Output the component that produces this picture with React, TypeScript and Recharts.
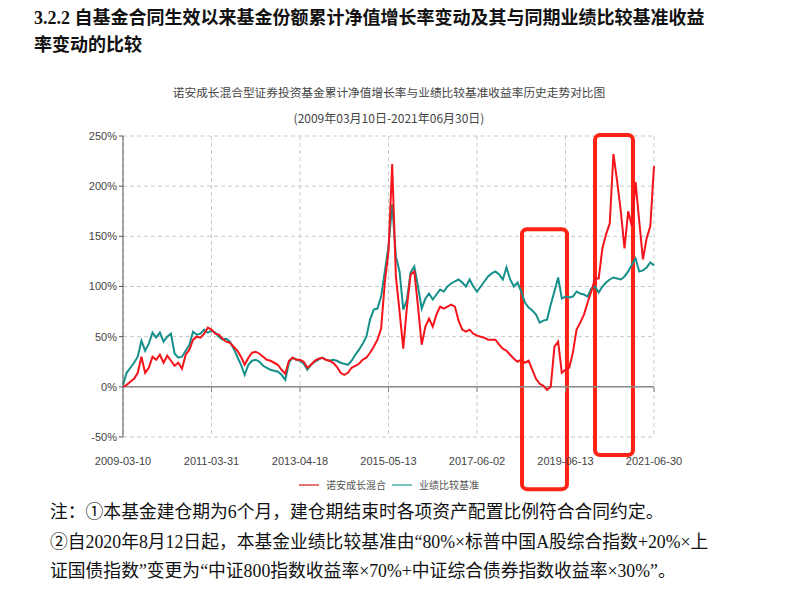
import React from 'react';
import {
  LineChart,
  Line,
  XAxis,
  YAxis,
  CartesianGrid,
  ReferenceLine,
  ReferenceArea,
} from 'recharts';

// ---- data ----
const tickLabels = ['2009-03-10', '2011-03-31', '2013-04-18', '2015-05-13', '2017-06-02', '2019-06-13', '2021-06-30'];
const tickIdx = [0, 24, 48, 72, 96, 120, 144];
const yTicks = [-50, 0, 50, 100, 150, 200, 250];

const seriesNames = ['诺安成长混合', '业绩比较基准'];

// 诺安成长混合 累计净值增长率 (%)
const fund = [
  0, 2, 5, 8, 14, 30, 14, 19, 30, 27,
  32, 24, 31, 26, 21, 24, 18, 32, 37, 47,
  50, 49, 53, 59, 57, 53, 52, 48, 45, 44,
  40, 36, 30, 22, 29, 34, 35, 33, 30, 27,
  26, 24, 22, 17, 13, 26, 29, 27, 27, 25,
  19, 22, 26, 28, 29, 27, 26, 24, 20, 14,
  12, 14, 19, 21, 23, 27, 29, 34, 40, 47,
  58, 104, 135, 222, 110, 75, 38, 80, 112, 115,
  80, 42, 60, 68, 60, 72, 80, 78, 80, 82,
  80, 66, 57, 55, 57, 53, 51, 50, 49, 47,
  47, 47, 42, 38, 36, 32, 28, 25, 27, 24,
  26, 17, 8, 3, 1, -3, 0, 40, 45, 14,
  17, 19, 34, 57, 64, 72, 84, 95, 108, 108,
  138, 152, 163, 232, 205, 175, 138, 175, 160, 204,
  165, 127, 148, 160, 220,
];

// 业绩比较基准收益率 (%)
const bench = [
  2, 14, 19, 24, 30, 46, 36, 43, 54, 49,
  54, 45, 50, 53, 33, 29, 30, 36, 42, 55,
  52, 53, 57, 54, 56, 54, 50, 47, 48, 45,
  38, 30, 22, 12, 22, 26, 27, 25, 21, 19,
  17, 16, 15, 12, 7, 24, 29, 27, 26, 23,
  17, 22, 25, 27, 29, 27, 26, 27, 26, 24,
  23, 22, 26, 32, 37, 43, 50, 67, 77, 78,
  90, 115, 140, 182, 130, 115, 77, 87, 114, 120,
  100, 78, 88, 93, 87, 92, 97, 95, 100, 103,
  105, 107, 104, 100, 107, 100, 95, 100, 105, 110,
  113, 115, 112, 107, 119, 107, 100, 104, 95, 84,
  79, 76, 72, 64, 66, 67, 82, 95, 109, 88,
  90, 89, 90, 95, 93, 92, 90, 98, 100, 94,
  100, 104, 107, 109, 108, 107, 110, 115, 122, 128,
  115, 116, 119, 124, 121,
];

// red highlight boxes drawn on the chart (annotation), in data units
const highlightBoxes = [
  { x1: 108.2, x2: 120.4, y1: -102, y2: 157 },
  { x1: 128.0, x2: 138.3, y1: -68, y2: 251 },
];

const colors = { fund: '#f5141c', bench: '#16908a' };
const legendColors = ['#e27474', '#7ec2c0'];

const data = fund.map((v, i) => ({ t: i, fund: v, bench: bench[i] }));

const cjk = '"Noto Sans CJK SC", "Liberation Sans", sans-serif';
const serifMix = '"Liberation Serif", "Noto Sans CJK SC", serif';

const BoxShape = (props: any) => {
  const { x, y, width, height } = props;
  if (x == null || y == null) return null;
  return (
    <rect
      x={x}
      y={y}
      width={width}
      height={height}
      rx={5}
      ry={5}
      fill="none"
      stroke="#ff2316"
      strokeWidth={4}
    />
  );
};

export default function App() {
  return (
    <div
      style={{
        position: 'absolute',
        left: 0,
        top: 0,
        width: 798,
        height: 592,
        background: '#fff',
        overflow: 'hidden',
      }}
    >
      {/* heading */}
      <div
        style={{
          position: 'absolute',
          left: 34,
          top: 5,
          fontFamily: serifMix,
          fontWeight: 'bold',
          fontSize: 18,
          lineHeight: '27px',
          color: '#111',
          whiteSpace: 'nowrap',
        }}
      >
        <div>3.2.2 自基金合同生效以来基金份额累计净值增长率变动及其与同期业绩比较基准收益</div>
        <div>率变动的比较</div>
      </div>

      {/* chart title */}
      <div
        style={{
          position: 'absolute',
          left: 0,
          width: 778,
          top: 84,
          textAlign: 'center',
          fontFamily: cjk,
          fontSize: 11.7,
          lineHeight: '16px',
          color: '#444',
          whiteSpace: 'nowrap',
        }}
      >
        诺安成长混合型证券投资基金累计净值增长率与业绩比较基准收益率历史走势对比图
      </div>
      <div
        style={{
          position: 'absolute',
          left: 0,
          width: 778,
          top: 110,
          textAlign: 'center',
          fontFamily: cjk,
          fontSize: 12,
          lineHeight: '16px',
          color: '#444',
          whiteSpace: 'nowrap',
        }}
      >
        (2009年03月10日-2021年06月30日)
      </div>

      {/* chart */}
      <div style={{ position: 'absolute', left: 0, top: 0 }}>
        <LineChart
          width={798}
          height={500}
          data={data}
          margin={{ top: 136, right: 144, left: 63, bottom: 23 }}
        >
          <CartesianGrid stroke="#c9c9c9" strokeDasharray="4 3" />
          <XAxis
            type="number"
            dataKey="t"
            domain={[0, 144]}
            ticks={tickIdx}
            interval={0}
            tickFormatter={(v: number) => tickLabels[tickIdx.indexOf(v)] ?? ''}
            axisLine={false}
            tickLine={false}
            tickSize={0}
            tickMargin={20}
            height={40}
            tick={{ fill: '#444', fontSize: 11, fontFamily: '"Liberation Sans", sans-serif' }}
          />
          <YAxis
            type="number"
            domain={[-50, 250]}
            ticks={yTicks}
            interval={0}
            width={60}
            tickFormatter={(v: number) => `${v}%`}
            axisLine={{ stroke: '#555' }}
            tickLine={{ stroke: '#555' }}
            tickSize={4}
            tickMargin={2}
            tick={{ fill: '#444', fontSize: 11, fontFamily: '"Liberation Sans", sans-serif' }}
          />
          <ReferenceLine y={0} stroke="#8a8a8a" strokeWidth={1.5} />
          {tickIdx.slice(1).map((t) => (
            <ReferenceLine
              key={`zt${t}`}
              segment={[
                { x: t, y: 0 },
                { x: t, y: -5 },
              ]}
              stroke="#8a8a8a"
            />
          ))}
          <Line
            type="linear"
            dataKey="bench"
            name={seriesNames[1]}
            stroke={colors.bench}
            strokeWidth={2}
            dot={false}
            isAnimationActive={false}
          />
          <Line
            type="linear"
            dataKey="fund"
            name={seriesNames[0]}
            stroke={colors.fund}
            strokeWidth={2}
            dot={false}
            isAnimationActive={false}
          />
          {highlightBoxes.map((b, i) => (
            <ReferenceArea
              key={`box${i}`}
              x1={b.x1}
              x2={b.x2}
              y1={b.y1}
              y2={b.y2}
              ifOverflow="visible"
              shape={BoxShape}
            />
          ))}
        </LineChart>
      </div>

      {/* legend */}
      <div
        style={{
          position: 'absolute',
          left: 0,
          width: 778,
          top: 477,
          display: 'flex',
          justifyContent: 'center',
          alignItems: 'center',
          fontFamily: cjk,
          fontSize: 10,
          color: '#555',
        }}
      >
        {seriesNames.map((n, i) => (
          <div key={n} style={{ display: 'flex', alignItems: 'center', marginRight: i === 0 ? 6 : 0 }}>
            <div style={{ width: 20, height: 2, background: legendColors[i], marginRight: 7 }} />
            <span>{n}</span>
          </div>
        ))}
      </div>

      {/* notes */}
      <div
        style={{
          position: 'absolute',
          left: 50,
          top: 498,
          fontFamily: serifMix,
          fontSize: 17.8,
          lineHeight: '29.5px',
          color: '#111',
          whiteSpace: 'nowrap',
        }}
      >
        <div>注：①本基金建仓期为6个月，建仓期结束时各项资产配置比例符合合同约定。</div>
        <div>②自2020年8月12日起，本基金业绩比较基准由“80%×标普中国A股综合指数+20%×上</div>
        <div>证国债指数”变更为“中证800指数收益率×70%+中证综合债券指数收益率×30%”。</div>
      </div>
    </div>
  );
}
